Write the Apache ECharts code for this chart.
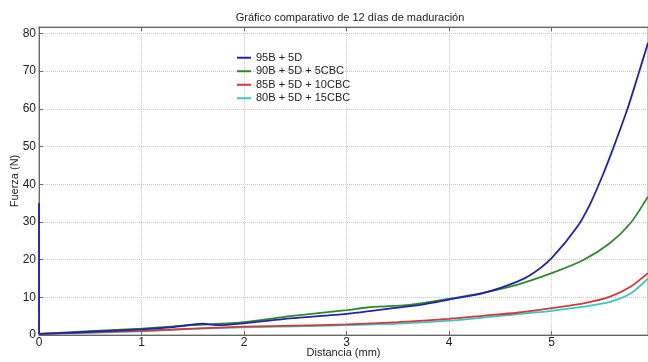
<!DOCTYPE html>
<html>
<head>
<meta charset="utf-8">
<script src="https://cdn.jsdelivr.net/npm/echarts@6/dist/echarts.min.js"></script>
<style>
  html, body { margin: 0; padding: 0; background: #fff; }
  #chart { width: 648px; height: 362px; }
</style>
</head>
<body>
<div id="chart"></div>
<script>
const seriesNames = ['95B + 5D', '90B + 5D + 5CBC', '85B + 5D + 10CBC', '80B + 5D + 15CBC'];
const seriesColors = ['#2323a8', '#2b8a2b', '#d23a3a', '#3ec6c6'];

// [distancia (mm), fuerza (N)]
const blue = [
  [0, 35], [0, 0.3], [0.3, 0.6], [0.6, 1.0], [1.0, 1.5], [1.3, 2.1], [1.6, 3.0], [1.73, 2.6],
  [2.0, 3.1], [2.45, 4.4], [3.0, 5.6], [3.42, 7.0], [3.72, 8.0], [4.0, 9.4], [4.33, 11.1],
  [4.66, 14.1], [4.82, 16.4], [5.0, 20.4], [5.25, 28.7], [5.38, 35], [5.5, 42.5], [5.6, 49.5],
  [5.74, 60], [5.85, 69.5], [5.94, 77.5]
];
const green = [
  [0, 0.3], [0.5, 1.0], [1.0, 1.7], [1.5, 2.6], [2.0, 3.4], [2.45, 5.0], [3.0, 6.6], [3.2, 7.3],
  [3.62, 8.0], [4.0, 9.6], [4.33, 11.2], [4.66, 13.3], [5.0, 16.4], [5.31, 19.9], [5.57, 24.4],
  [5.77, 29.7], [5.94, 36.7]
];
const red = [
  [0, 0.3], [0.5, 0.7], [1.0, 1.1], [1.5, 1.7], [2.0, 2.2], [2.5, 2.5], [3.0, 2.8], [3.5, 3.4],
  [4.0, 4.3], [4.33, 5.1], [4.66, 5.9], [5.0, 7.1], [5.31, 8.4], [5.57, 10.2], [5.77, 12.8],
  [5.94, 16.4]
];
const cyan = [
  [0, 0.3], [0.5, 0.6], [1.0, 1.0], [1.5, 1.6], [2.0, 2.0], [2.5, 2.3], [3.0, 2.6], [3.5, 3.0],
  [4.0, 3.8], [4.33, 4.6], [4.66, 5.5], [5.0, 6.4], [5.31, 7.5], [5.57, 8.8], [5.77, 11.0],
  [5.94, 15.0]
];
const allData = [blue, green, red, cyan];

const font = 'Liberation Sans, Arial, sans-serif';
const chart = echarts.init(document.getElementById('chart'));

const baseX = {
  type: 'value',
  min: 0,
  max: 5.94,
  interval: 1,
  axisLine: { lineStyle: { color: '#666' } },
  axisTick: { inside: true, length: 4, lineStyle: { color: '#666' } }
};

chart.setOption({
  animation: false,
  title: {
    text: 'Gráfico comparativo de 12 días de maduración',
    left: 345,
    top: 7,
    textAlign: 'center',
    textStyle: { fontFamily: font, fontSize: 11, fontWeight: 'normal', color: '#222' }
  },
  grid: {
    left: 39, right: 0, top: 27, bottom: 27,
    containLabel: false,
    outerBoundsMode: 'none',
    show: true, borderColor: '#888', borderWidth: 1
  },
  legend: {
    orient: 'vertical',
    left: 232,
    top: 46,
    icon: 'rect',
    itemWidth: 14,
    itemHeight: 2,
    itemGap: 0,
    textStyle: { fontFamily: font, fontSize: 11, color: '#222', lineHeight: 13.5 },
    data: seriesNames
  },
  xAxis: [
    Object.assign({}, baseX, {
      name: 'Distancia (mm)',
      nameLocation: 'middle',
      nameGap: 12,
      nameMoveOverlap: false,
      nameTextStyle: { fontFamily: font, fontSize: 11, color: '#222' },
      axisLabel: { fontFamily: font, fontSize: 12, color: '#222', margin: 2, showMaxLabel: false },
      splitLine: { show: true, lineStyle: { color: '#c8c8c8', type: 'dotted' } }
    }),
    Object.assign({}, baseX, {
      position: 'top',
      axisLabel: { show: false },
      splitLine: { show: false }
    })
  ],
  yAxis: {
    type: 'value',
    min: 0,
    max: 81.7,
    interval: 10,
    name: 'Fuerza (N)',
    nameLocation: 'middle',
    nameGap: 19,
    nameMoveOverlap: false,
    nameTextStyle: { fontFamily: font, fontSize: 11, color: '#222' },
    axisLine: { show: true, lineStyle: { color: '#666' } },
    axisTick: { show: true, inside: true, length: 4, lineStyle: { color: '#666' } },
    axisLabel: { fontFamily: font, fontSize: 12, color: '#222', margin: 3, showMaxLabel: false },
    splitLine: { show: true, lineStyle: { color: '#c8c8c8', type: 'dotted' } }
  },
  series: seriesNames.map((name, i) => ({
    name,
    type: 'line',
    data: allData[i],
    showSymbol: false,
    smooth: 0.25,
    color: seriesColors[i],
    lineStyle: { width: 1.8, color: seriesColors[i] },
    z: 10 - i
  }))
});
</script>
</body>
</html>
